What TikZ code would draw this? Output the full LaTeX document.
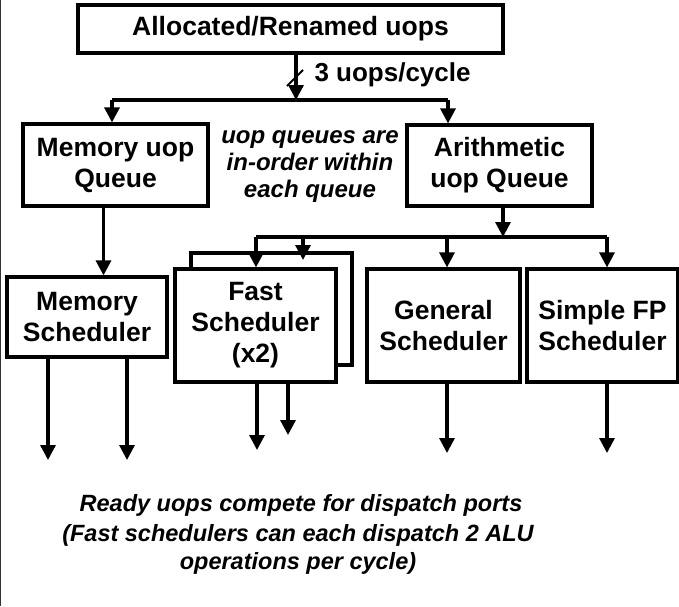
\documentclass[tikz,border=0pt]{standalone}
\usepackage{fontspec}
\setmainfont{Liberation Sans}
\usetikzlibrary{arrows.meta}
\tikzset{
  box/.style={draw, line width=3.2pt, inner sep=0pt, align=center, font=\bfseries\fontsize{26.5}{31}\selectfont},
  arr/.style={line width=3.2pt, -{Triangle[width=15pt,length=15pt]}},
  wire/.style={line width=3.2pt},
  note/.style={align=center, font=\bfseries\itshape\fontsize{24}{27}\selectfont},
}
\begin{document}
\begin{tikzpicture}[x=1pt,y=-1pt]
\useasboundingbox (0,0) rectangle (679,606);
\draw[line width=1.2pt, black!80] (0.7,0) -- (0.7,606);
% boxes
\node[box, minimum width=425pt, minimum height=48pt] (top) at (290.5,29) {Allocated/Renamed uops};
\node[box, minimum width=185pt, minimum height=82pt] (memq) at (115.5,165) {Memory uop\\Queue};
\node[box, minimum width=185pt, minimum height=81pt] (arq) at (499.5,165.5) {Arithmetic\\uop Queue};
\node[box, minimum width=160pt, minimum height=80pt] (mems) at (87,317) {Memory\\Scheduler};
\node[draw, line width=3.2pt, minimum width=161pt, minimum height=112pt] (fastb) at (271.5,309) {};
\node[box, fill=white, minimum width=161pt, minimum height=113pt] (fast) at (255.5,325.5) {Fast\\Scheduler\\(x2)};
\node[box, minimum width=153pt, minimum height=113pt] (gen) at (443.5,325.5) {General\\Scheduler};
\node[box, minimum width=151pt, minimum height=113pt] (sfp) at (602.5,325.5) {Simple FP\\Scheduler};
% label nodes
\node[font=\bfseries\fontsize{26}{30}\selectfont, anchor=west] (rate) at (311,75) {3 uops/cycle};
\node[note] (inorder) at (310,167) {uop queues are\\in-order within\\each queue};
\node[note, font=\bfseries\itshape\fontsize{23.5}{28}\selectfont] (ready) at (301,505) {Ready uops compete for dispatch ports};
\node[note, font=\bfseries\itshape\fontsize{23.5}{28}\selectfont] (fastnote) at (298,549) {(Fast schedulers can each dispatch 2 ALU\\operations per cycle)};
% bus coordinates
\coordinate (b1) at (296,100);
\coordinate (b1l) at (112,100);
\coordinate (b1r) at (448,100);
\coordinate (mq) at (103.5,206);
\coordinate (b2) at (503,237);
\coordinate (b2a) at (256,237);
\coordinate (b2b) at (303,237);
\coordinate (b2c) at (447,237);
\coordinate (b2d) at (607,237);
% top split
\draw[arr] (top.south -| b1) -- (b1);
\draw[line width=2pt] (287,86) -- (303,70);
\draw[wire] (b1l) -- (b1r);
\draw[arr] (b1l) -- (b1l |- memq.north);
\draw[arr] (b1r) -- (b1r |- arq.north);
% memory path
\draw[arr] (memq.south -| mq) -- (mems.north -| mq);
% arithmetic split
\draw[arr] (arq.south -| b2) -- (b2);
\draw[wire] (b2a) -- (b2d);
\draw[arr] (b2a) -- (b2a |- fast.north);
\draw[arr] (b2b) -- ++(0,23) coordinate (fbt);
\draw[arr] (b2c) -- (b2c |- gen.north);
\draw[arr] (b2d) -- (b2d |- sfp.north);
% outputs
\coordinate (o1) at (48,460);
\coordinate (o2) at (127,460);
\coordinate (o3) at (257,450);
\coordinate (o4) at (288,435);
\coordinate (o5) at (447,453);
\coordinate (o6) at (607,453);
\draw[arr] (mems.south -| o1) -- (o1);
\draw[arr] (mems.south -| o2) -- (o2);
\draw[arr] (fast.south -| o3) -- (o3);
\draw[arr] (fast.south -| o4) -- (o4);
\draw[arr] (gen.south -| o5) -- (o5);
\draw[arr] (sfp.south -| o6) -- (o6);
\end{tikzpicture}
\end{document}
